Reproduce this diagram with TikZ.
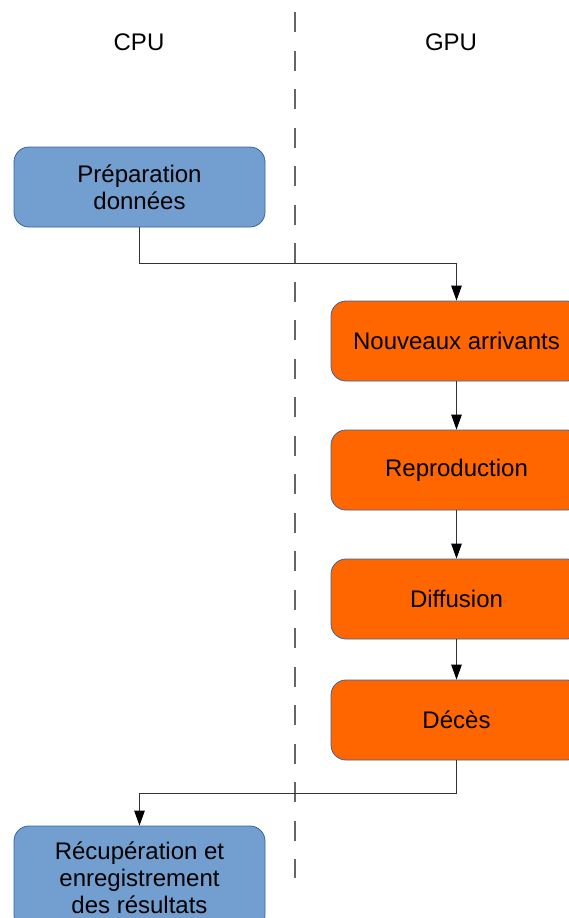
\documentclass[tikz,border=0pt]{standalone}
\usepackage{fontspec}
\setmainfont{Liberation Sans}
\usetikzlibrary{arrows.meta}
\definecolor{bluefill}{HTML}{729FCF}
\definecolor{orangefill}{HTML}{FF6600}
\definecolor{edgeblue}{HTML}{3465A4}
\definecolor{lanegray}{HTML}{666666}
\definecolor{conngray}{HTML}{333333}
\tikzset{
  base/.style={rectangle, rounded corners=15pt, draw=edgeblue, line width=0.8pt,
    minimum width=251pt, minimum height=80pt, align=center,
    font=\fontsize{24}{26.8}\selectfont, text=black, inner sep=0pt},
  cpubox/.style={base, fill=bluefill},
  gpubox/.style={base, fill=orangefill},
  conn/.style={draw=conngray, line width=1.1pt, -{Triangle[length=15pt,width=10.5pt,color=black]}},
  lane/.style={draw=lanegray, line width=1.4pt, dash pattern=on 20pt off 18.5pt},
  title/.style={font=\fontsize{24}{27}\selectfont, text=black}
}
\begin{document}
\begin{tikzpicture}[x=1pt,y=-1pt]
\useasboundingbox (0,0) rectangle (569,918);
\clip (0,0) rectangle (569,918);
\draw[lane] (295,12) -- (295,878);
\node[title] (cpu) at (139,42) {CPU};
\node[title] (gpu) at (451,42) {GPU};
\node[cpubox] (prep) at (139.5,187) {Préparation\\données};
\node[gpubox] (nouv) at (456.5,341) {Nouveaux arrivants};
\node[gpubox] (repro) at (456.5,470) {Reproduction};
\node[gpubox] (diff) at (456.5,599) {Diffusion};
\node[gpubox] (deces) at (456.5,720) {Décès};
\node[cpubox, minimum height=104pt] (recup) at (139.5,878) {Récupération et\\enregistrement\\des résultats};
\draw[conn] (prep.south) -- ++(0,36) -| (nouv.north);
\draw[conn] (nouv) -- (repro);
\draw[conn] (repro) -- (diff);
\draw[conn] (diff) -- (deces);
\draw[conn] (deces.south) -- ++(0,33) -| (recup.north);
\end{tikzpicture}
\end{document}
